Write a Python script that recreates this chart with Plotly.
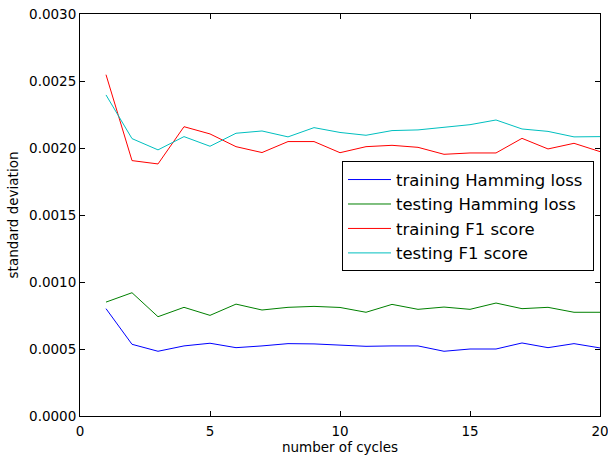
import plotly.graph_objects as go

cycles = list(range(1, 21))
train_hamming = [0.000801, 0.000535, 0.000483, 0.000523, 0.000543, 0.000510, 0.000523, 0.000540, 0.000538, 0.000528,
                 0.000520, 0.000523, 0.000523, 0.000483, 0.000500, 0.000500, 0.000545, 0.000510, 0.000540, 0.000508]
test_hamming = [0.000850, 0.000920, 0.000741, 0.000811, 0.000751, 0.000835, 0.000791, 0.000811, 0.000818, 0.000810,
                0.000774, 0.000833, 0.000796, 0.000813, 0.000796, 0.000843, 0.000801, 0.000811, 0.000774, 0.000774]
train_f1 = [0.002547, 0.001906, 0.001881, 0.002159, 0.002105, 0.002010, 0.001966, 0.002048, 0.002048, 0.001965,
            0.002010, 0.002020, 0.002005, 0.001953, 0.001963, 0.001963, 0.002072, 0.001993, 0.002035, 0.001973]
test_f1 = [0.002396, 0.002070, 0.001986, 0.002085, 0.002013, 0.002110, 0.002127, 0.002083, 0.002152, 0.002116,
           0.002095, 0.002130, 0.002135, 0.002152, 0.002174, 0.002209, 0.002142, 0.002124, 0.002083, 0.002085]

series_names = ["training Hamming loss", "testing Hamming loss", "training F1 score", "testing F1 score"]
series_values = [train_hamming, test_hamming, train_f1, test_f1]
series_colors = ["#0000ff", "#008000", "#ff0000", "#00bfbf"]

FONT = "DejaVu Sans"
PAD = "\u00a0"

fig = go.Figure()
for name, vals, col in zip(series_names, series_values, series_colors):
    fig.add_trace(go.Scatter(x=cycles, y=vals, mode="lines", name=name + PAD,
                             line=dict(color=col, width=1)))

L, R, T, B = 80, 8, 13.5, 39
W, H = 608, 455
pw, ph = W - L - R, H - T - B

fig.update_layout(
    width=W, height=H,
    margin=dict(l=L, r=R, t=T, b=B, pad=0, autoexpand=False),
    paper_bgcolor="white", plot_bgcolor="white",
    font=dict(family=FONT, size=13.5, color="black"),
    showlegend=True,
    legend=dict(
        x=(342 - L) / pw, y=(H - B - 161) / ph, xanchor="left", yanchor="top",
        bordercolor="black", borderwidth=1, bgcolor="white",
        font=dict(family=FONT, size=16.5, color="black"),
        itemwidth=43,
    ),
    xaxis=dict(
        range=[0, 20], dtick=5, tick0=0, automargin=False,
        ticklabeloverflow="allow",
        showgrid=False, zeroline=False,
        showline=True, linecolor="black", linewidth=1, mirror="ticks",
        ticks="inside", ticklen=5, tickcolor="black", tickwidth=1,
        ticklabelstandoff=3,
        title=dict(text="number of cycles", font=dict(size=13.5), standoff=4),
    ),
    yaxis=dict(
        range=[0, 0.003], dtick=0.0005, tick0=0, tickformat=".4f", automargin=False,
        ticklabeloverflow="allow",
        showgrid=False, zeroline=False,
        showline=True, linecolor="black", linewidth=1, mirror="ticks",
        ticks="inside", ticklen=5, tickcolor="black", tickwidth=1,
        title=dict(text="standard deviation", font=dict(size=13.5), standoff=7),
    ),
)

fig.write_html("out.html")
